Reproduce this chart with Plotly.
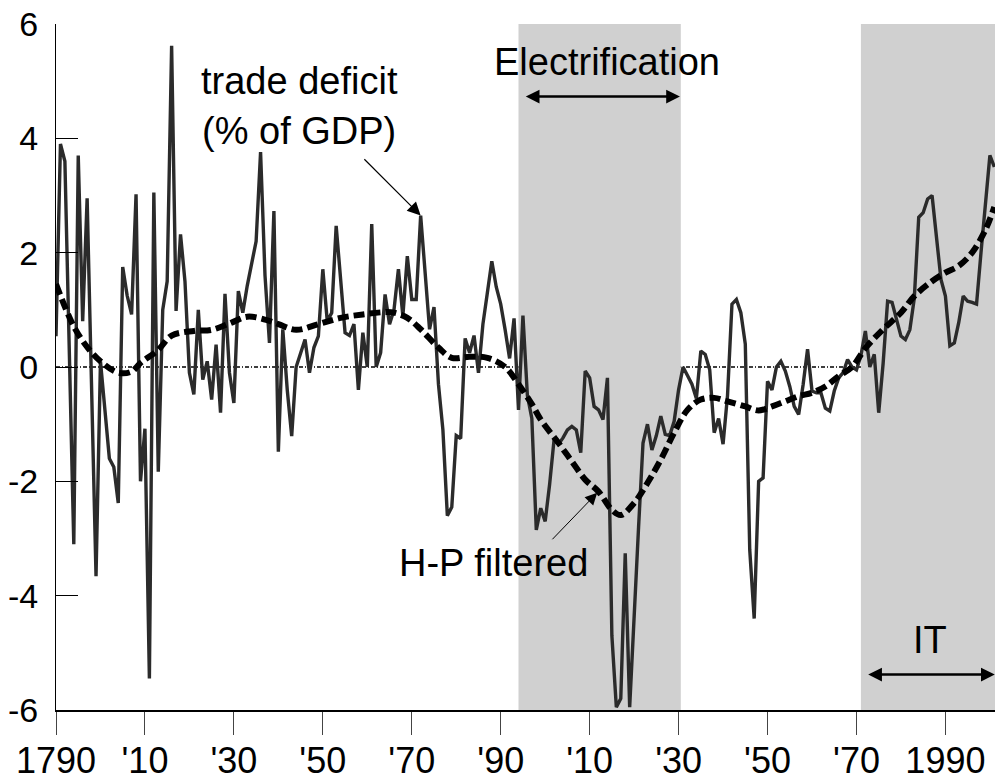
import plotly.graph_objects as go

# ---------------- data ----------------
start_year = 1790
deficit = [
    0.54, 3.9, 3.6, 0.0, -3.1, 3.7, 0.8, 2.95, -0.6, -3.66,          # 1790-1799
    0.1, -0.8, -1.6, -1.75, -2.38, 1.75, 1.25, 0.92, 3.02, -2.0,     # 1800-1809
    -1.08, -5.45, 3.05, -1.83, 1.0, 1.5, 5.62, 0.98, 2.32, 1.5,      # 1810-1819
    -0.1, -0.48, 1.0, -0.22, 0.1, -0.57, 0.39, -0.8, 1.28, -0.1,     # 1820-1829
    -0.63, 1.33, 0.95, 1.42, 1.83, 2.2, 3.76, 1.6, 0.42, 2.73,       # 1830-1839
    -1.48, 0.66, -0.4, -1.21, 0.0, 0.25, 0.48, -0.1, 0.34, 0.54,     # 1840-1849
    1.71, 0.8, 0.95, 2.47, 1.48, 0.6, 0.55, 0.75, -0.4, 0.6,         # 1850-1859
    0.0, 2.5, 0.0, 0.25, 1.27, 0.75, 1.0, 1.71, 0.89, 1.94,          # 1860-1869
    1.18, 1.18, 2.65, 1.71, 0.66, 1.05, -0.3, -1.1, -2.6, -2.45,     # 1870-1879
    -1.2, -1.25, 0.5, 0.25, 0.55, -0.1, 0.75, 1.3, 1.85, 1.4,        # 1880-1889
    1.1, 0.65, 0.15, 0.85, -0.75, 0.9, -0.5, -0.9, -2.85, -2.47,     # 1890-1899
    -2.7, -2.05, -1.27, -1.35, -1.24, -1.1, -1.04, -1.1, -1.5, -0.07,  # 1900-1909
    -0.19, -0.69, -0.75, -0.92, -0.19, -4.7, -5.95, -5.8, -3.26, -5.95,  # 1910-1919
    -4.3, -2.8, -1.33, -1.0, -1.45, -1.2, -0.86, -1.18, -1.2, -0.95,   # 1920-1929
    -0.4, 0.0, -0.15, -0.3, -0.55, 0.28, 0.22, -0.05, -1.15, -0.9,   # 1930-1939
    -1.35, -0.5, 1.1, 1.18, 0.95, 0.4, -3.2, -4.4, -2.0, -1.94,      # 1940-1949
    -0.25, -0.4, 0.0, 0.1, -0.07, -0.34, -0.69, -0.83, -0.31, 0.31,  # 1950-1959
    -0.42, -0.45, -0.45, -0.72, -0.77, -0.42, -0.19, -0.1, 0.13, 0.0,  # 1960-1969
    -0.05, 0.2, 0.63, 0.0, 0.22, -0.8, 0.07, 1.15, 1.13, 0.85,       # 1970-1979
    0.54, 0.48, 0.65, 1.2, 2.62, 2.7, 2.94, 3.0, 2.3, 1.53,          # 1980-1989
    1.24, 0.37, 0.42, 0.78, 1.24, 1.15, 1.13, 1.1, 2.0, 2.9,         # 1990-1999
    3.7, 3.5,                                                          # 2000-2001
]
years = list(range(start_year, start_year + len(deficit)))

trend_years = [1790, 1794, 1797, 1800, 1804, 1807, 1809, 1813, 1816, 1821,
               1825, 1829, 1833, 1837, 1840, 1844, 1849, 1854, 1859, 1864,
               1866, 1869, 1872, 1876, 1879, 1883, 1887, 1891, 1894, 1897,
               1899, 1903, 1906, 1909, 1912, 1915, 1917, 1920, 1923, 1926,
               1929, 1932, 1935, 1938, 1941, 1945, 1948, 1951, 1954, 1957,
               1960, 1963, 1966, 1969, 1972, 1976, 1980, 1983, 1987, 1990,
               1993, 1996, 1999, 2001]
trend_vals = [1.45, 0.71, 0.35, 0.1, -0.1, -0.08, 0.07, 0.3, 0.55, 0.63,
              0.65, 0.76, 0.88, 0.83, 0.75, 0.65, 0.75, 0.86, 0.92, 0.96,
              0.95, 0.86, 0.66, 0.34, 0.16, 0.18, 0.16, 0.0, -0.3, -0.65,
              -0.92, -1.33, -1.65, -1.97, -2.18, -2.5, -2.59, -2.38, -2.03, -1.62,
              -1.15, -0.75, -0.57, -0.54, -0.6, -0.69, -0.76, -0.69, -0.6, -0.51,
              -0.45, -0.34, -0.16, 0.0, 0.33, 0.66, 0.95, 1.24, 1.5, 1.65,
              1.77, 2.0, 2.4, 2.8]

x_tickvals = [1790, 1810, 1830, 1850, 1870, 1890, 1910, 1930, 1950, 1970, 1990]
x_ticktext = ["1790", "'10", "'30", "'50", "'70", "'90", "'10", "'30", "'50", "'70", "1990"]
y_tickvals = [-6, -4, -2, 0, 2, 4, 6]
y_ticktext = ["-6", "-4", "-2", "0", "2", "4", "6"]

electrification = (1894.0, 1930.5)
it_era = (1971.0, 2001.15)
x_range = (1790, 2001.15)
y_range = (-6, 6)

FONT = "Liberation Sans, Arial, sans-serif"

# ---------------- figure ----------------
fig = go.Figure()

fig.add_trace(go.Scatter(
    x=years, y=deficit, mode="lines",
    line=dict(color="#2b2b2b", width=3.4),
    showlegend=False, hoverinfo="skip",
))
fig.add_trace(go.Scatter(
    x=trend_years, y=trend_vals, mode="lines",
    line=dict(color="black", width=6, dash="11px,5px", shape="spline", smoothing=1.0),
    showlegend=False, hoverinfo="skip",
))

shapes = []
for (a, b) in (electrification, it_era):
    shapes.append(dict(type="rect", xref="x", yref="y", x0=a, x1=b,
                       y0=y_range[0], y1=y_range[1],
                       fillcolor="#d0d0d0", line=dict(width=0), layer="below"))
shapes.append(dict(type="line", xref="paper", yref="y", x0=0, x1=1, y0=0, y1=0,
                   line=dict(color="black", width=1.5, dash="4px,2px,1px,2px"), layer="below"))

annotations = []
def text_ann(txt, x, y):
    annotations.append(dict(text=txt, x=x, y=y, xref="x", yref="y", showarrow=False,
                            font=dict(family=FONT, size=38, color="black"),
                            xanchor="center", yanchor="middle"))

text_ann("trade deficit", 1844.7, 5.01)
text_ann("(% of GDP)", 1844.7, 4.13)
text_ann("Electrification", 1913.9, 5.34)
text_ann("H-P filtered", 1888.3, -3.43)
text_ann("IT", 1986.5, -4.78)

def arrow(x, y, ax, ay, width, size, both=False):
    annotations.append(dict(text="", x=x, y=y, ax=ax, ay=ay, xref="x", yref="y",
                            axref="x", ayref="y", showarrow=True, arrowhead=2,
                            startarrowhead=2, arrowsize=size, startarrowsize=size,
                            arrowwidth=width, arrowcolor="black",
                            arrowside="end+start" if both else "end"))

arrow(1872, deficit[1872 - start_year], 1859.0, 3.66, 1.2, 2.2)
arrow(1911.7, -2.2, 1901.3, -3.04, 1.0, 2.4)
arrow(1930.3, 4.73, 1895.3, 4.73, 2.5, 1.1, both=True)
arrow(2001.1, -5.38, 1972.3, -5.38, 2.5, 1.1, both=True)

fig.update_layout(
    width=995, height=784,
    margin=dict(l=56, r=0, t=24, b=74, pad=0),
    paper_bgcolor="white", plot_bgcolor="white",
    shapes=shapes, annotations=annotations,
    font=dict(family=FONT, color="black"),
    xaxis=dict(range=list(x_range), tickvals=x_tickvals, ticktext=x_ticktext,
               ticks="outside", ticklen=23, tickwidth=1, tickcolor="#444",
               showline=True, linecolor="black", linewidth=2, showgrid=False,
               zeroline=False, ticklabelstandoff=-5,
               tickfont=dict(family=FONT, size=36, color="black")),
    yaxis=dict(range=list(y_range), tickvals=y_tickvals, ticktext=y_ticktext,
               ticks="inside", ticklen=22, tickwidth=1, tickcolor="black",
               showline=True, linecolor="black", linewidth=1, showgrid=False,
               zeroline=False, ticklabelstandoff=10,
               tickfont=dict(family=FONT, size=34, color="black")),
)

fig.write_html("out.html", config={"displayModeBar": False},
               post_script="document.body.style.margin='0';")
